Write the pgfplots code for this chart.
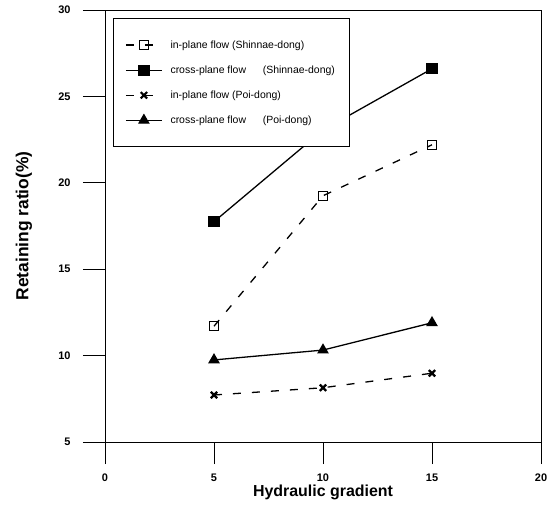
\documentclass[border=0pt]{standalone}
\usepackage{fontspec}
\setmainfont{Liberation Sans}
\usepackage{pgfplots}
\pgfplotsset{compat=1.18}
\begin{document}
\begin{tikzpicture}
\useasboundingbox (-105bp,-76bp) rectangle (443bp,442bp);
\begin{axis}[
  width=436bp, height=432bp, scale only axis,
  xmin=0, xmax=20, ymin=5, ymax=30,
  xtick={0,5,10,15,20}, ytick={5,10,15,20,25,30},
  tick align=outside, xtick pos=bottom, ytick pos=left,
  major tick length=22bp,
  tick style={black, line width=0.8pt},
  axis line style={line width=0.9pt},
  /pgf/number format/assume math mode=true,
  ticklabel style={font=\fontsize{11}{13}\selectfont\bfseries},
  xticklabel style={yshift=-6bp},
  yticklabel style={xshift=-9bp},
  xlabel={Hydraulic gradient}, ylabel={Retaining ratio(\%)},
  label style={font=\fontsize{16}{19}\selectfont\bfseries},
  xlabel style={at={(axis description cs:0.5,-0.116)}, anchor=center},
  ylabel style={at={(axis description cs:-0.186,0.5)}, anchor=center, font=\fontsize{17.5}{20}\selectfont\bfseries},
  legend style={at={(rel axis cs:0.018,0.981)}, anchor=north west,
    draw=black, line width=0.8pt, inner xsep=12bp, inner ysep=20bp,
    row sep=12bp, column sep=6bp, font=\fontsize{10.5}{12}\selectfont, cells={anchor=west}},
  legend cell align=left,
  legend image code/.code={\draw[#1, mark repeat=2, mark phase=2] plot coordinates {(0bp,0bp) (18bp,0bp) (36bp,0bp)};},
]
\addplot[black, line width=1.3pt, dash pattern=on 8bp off 11bp, mark=square, mark size=4.5bp, mark options={solid, fill=white, line width=0.9pt}]
  coordinates {(5,11.7) (10,19.25) (15,22.2)};
\addlegendentry{in-plane flow (Shinnae-dong)}
\addplot[black, line width=1.3pt, mark=square*, mark size=5bp, mark options={solid}]
  coordinates {(5,17.75) (10,23.05) (15,26.6)};
\addlegendentry{cross-plane flow\hspace{1.6em}(Shinnae-dong)}
\addplot[black, line width=1.3pt, dash pattern=on 8bp off 11bp, mark=x, mark size=4.5bp, mark options={solid, line width=2.2pt}]
  coordinates {(5,7.72) (10,8.14) (15,8.98)};
\addlegendentry{in-plane flow (Poi-dong)}
\addplot[black, line width=1.3pt, mark=triangle*, mark size=5.5bp, mark options={solid}]
  coordinates {(5,9.75) (10,10.32) (15,11.9)};
\addlegendentry{cross-plane flow\hspace{1.6em}(Poi-dong)}
\end{axis}
\end{tikzpicture}
\end{document}
